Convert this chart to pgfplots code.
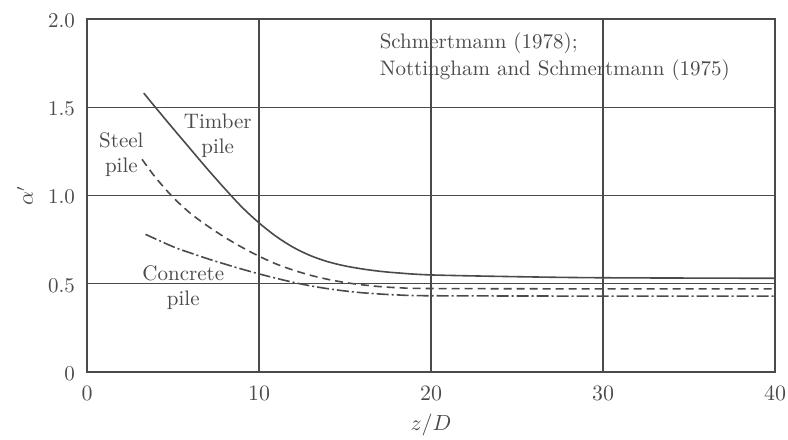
\documentclass[border=0pt]{standalone}
\usepackage{pgfplots}
\pgfplotsset{compat=1.18}
\definecolor{ink}{HTML}{4A4A4A}
\begin{document}
\begin{tikzpicture}
\begin{axis}[
  width=344pt, height=176.5pt, scale only axis,
  xmin=0, xmax=40, ymin=0, ymax=2.0,
  xtick={0,10,20,30,40}, ytick={0,0.5,1.0,1.5,2.0},
  yticklabels={0,0.5,1.0,1.5,2.0},
  major tick length=0pt,
  grid=major,
  major grid style={ink, line width=0.65pt},
  axis line style={ink, line width=0.8pt},
  tick label style={text=ink, font=\fontsize{10.5}{12}\selectfont},
  xticklabel style={yshift=-3.5pt},
  yticklabel style={xshift=-2.5pt, yshift=-0.8pt},
  xlabel={$z/D$}, ylabel={$\alpha'$},
  label style={text=ink, font=\fontsize{10.5}{12}\selectfont},
  xlabel style={at={(axis description cs:0.5,-0.15)}, anchor=center},
  ylabel style={at={(axis description cs:-0.09,0.5)}, anchor=center, rotate=0},
  clip=false,
]
\addplot[ink, line width=0.8pt, smooth] coordinates {
(3.3,1.58) (4,1.497) (5,1.38) (6,1.265) (7,1.15) (8,1.04) (9,0.935) (10,0.845) (11,0.768) (12,0.706) (13,0.659) (14,0.625) (15,0.601) (16,0.584) (17,0.571) (18,0.562) (20,0.55) (25,0.54) (30,0.534) (40,0.531)};
\addplot[ink, line width=0.8pt, smooth, dash pattern=on 4pt off 2.5pt] coordinates {
(3.2,1.205) (4,1.1) (5,0.99) (6,0.9) (7,0.828) (8,0.764) (9,0.707) (10,0.656) (11,0.612) (12,0.577) (13,0.548) (14,0.525) (15,0.507) (16,0.494) (17,0.484) (18,0.478) (20,0.473) (30,0.471) (40,0.471)};
\addplot[ink, line width=0.8pt, smooth, dash pattern=on 6pt off 1.5pt on 1pt off 1.5pt] coordinates {
(3.4,0.78) (5,0.71) (6,0.675) (7,0.642) (8,0.612) (9,0.583) (10,0.556) (11,0.531) (12,0.508) (13,0.488) (14,0.472) (15,0.459) (16,0.449) (17,0.442) (18,0.437) (20,0.432) (30,0.43) (40,0.43)};
\node[text=ink, align=center, inner sep=0pt, font=\fontsize{10.5}{12.5}\selectfont] at (axis cs:7.6,1.336) {Timber\\pile};
\node[text=ink, align=center, inner sep=0pt, font=\fontsize{10.5}{12.5}\selectfont] at (axis cs:2.0,1.229) {Steel\\pile};
\node[text=ink, align=center, inner sep=0pt, font=\fontsize{10.5}{12.5}\selectfont] at (axis cs:5.6,0.479) {Concrete\\pile};
\node[text=ink, align=left, anchor=west, inner sep=0pt, font=\fontsize{10.5}{13.3}\selectfont] at (axis cs:17.0,1.785) {Schmertmann (1978);\\Nottingham and Schmertmann (1975)};
\coordinate (ll) at (rel axis cs:0,0);
\coordinate (ur) at (rel axis cs:1,1);
\end{axis}
\pgfresetboundingbox
\path ([shift={(-43.5pt,-33.5pt)}]ll) rectangle ([shift={(6.5pt,9.5pt)}]ur);
\end{tikzpicture}
\end{document}
